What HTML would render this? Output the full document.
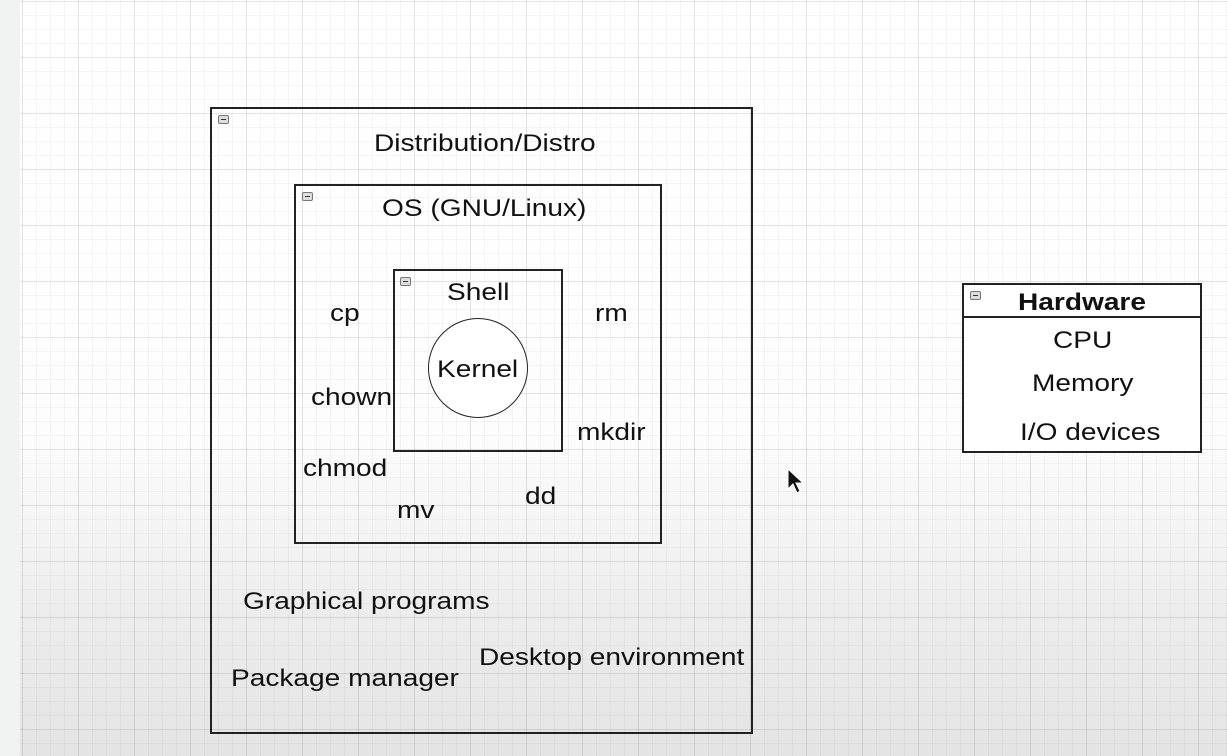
<!DOCTYPE html>
<html><head><style>
html,body{margin:0;padding:0;}
body{width:1227px;height:756px;position:relative;overflow:hidden;font-family:"Liberation Sans",Arial,sans-serif;
background:linear-gradient(180deg,#ffffff 0px,#fdfdfd 430px,#ececec 620px,#e4e4e4 756px);}
.grid{position:absolute;left:20px;top:0;right:0;bottom:0;
background-image:
linear-gradient(90deg,rgba(0,0,0,0.07) 1px,transparent 1px),
linear-gradient(0deg,rgba(0,0,0,0.07) 1px,transparent 1px),
linear-gradient(90deg,rgba(0,0,0,0.035) 1px,transparent 1px),
linear-gradient(0deg,rgba(0,0,0,0.035) 1px,transparent 1px);
background-size:56px 56px,56px 56px,14px 14px,14px 14px;
background-position:2px 2px,2px 2px,2px 2px,2px 2px;}
.strip{position:absolute;left:0;top:0;width:20px;height:756px;background:#f1f2f2;}
.box{position:absolute;border:2px solid #222;box-sizing:border-box;}
.m{position:absolute;width:11px;height:9px;border:1px solid #777;border-radius:2px;background:#ddd;box-sizing:border-box;}
.m::after{content:"";position:absolute;left:2px;right:2px;top:3px;height:1px;background:#333;}
.t{position:absolute;font-size:24px;color:#111;white-space:nowrap;transform:scaleX(1.17);transform-origin:left top;}
</style></head><body>
<div class="grid"></div><div class="strip"></div>

<div class="box" style="left:210px;top:107px;width:543px;height:627px;"></div>
<div class="m" style="left:218px;top:115px;"></div>
<div class="t" style="left:374px;top:130px;">Distribution/Distro</div>

<div class="box" style="left:294px;top:184px;width:368px;height:360px;"></div>
<div class="m" style="left:302px;top:192px;"></div>
<div class="t" style="left:382px;top:195px;">OS (GNU/Linux)</div>

<div class="box" style="left:393px;top:269px;width:170px;height:183px;"></div>
<div class="m" style="left:400px;top:277px;"></div>
<div class="t" style="left:447px;top:279px;">Shell</div>
<div style="position:absolute;left:428px;top:318px;width:100px;height:100px;border:1.5px solid #222;border-radius:50%;box-sizing:border-box;background:#fff;"></div>
<div class="t" style="left:437px;top:356px;">Kernel</div>

<div class="t" style="left:330px;top:300px;">cp</div>
<div class="t" style="left:595px;top:300px;">rm</div>
<div class="t" style="left:311px;top:384px;">chown</div>
<div class="t" style="left:577px;top:419px;">mkdir</div>
<div class="t" style="left:303px;top:455px;">chmod</div>
<div class="t" style="left:525px;top:483px;">dd</div>
<div class="t" style="left:397px;top:497px;">mv</div>

<div class="t" style="left:243px;top:588px;">Graphical programs</div>
<div class="t" style="left:479px;top:644px;">Desktop environment</div>
<div class="t" style="left:231px;top:665px;">Package manager</div>

<div class="box" style="left:962px;top:283px;width:240px;height:170px;background:#fff;"></div>
<div style="position:absolute;left:962px;top:316px;width:240px;height:2px;background:#222;"></div>
<div class="m" style="left:970px;top:291px;"></div>
<div class="t" style="left:1018px;top:289px;font-weight:bold;">Hardware</div>
<div class="t" style="left:1053px;top:327px;">CPU</div>
<div class="t" style="left:1032px;top:370px;">Memory</div>
<div class="t" style="left:1020px;top:419px;">I/O devices</div>

<svg style="position:absolute;left:786px;top:468px;" width="20" height="28"><path d="M2 1 L2 21 L7 16 L11 25 L14 23 L10 15 L17 15 Z" fill="#111" stroke="#fff" stroke-width="1"/></svg>
</body></html>
